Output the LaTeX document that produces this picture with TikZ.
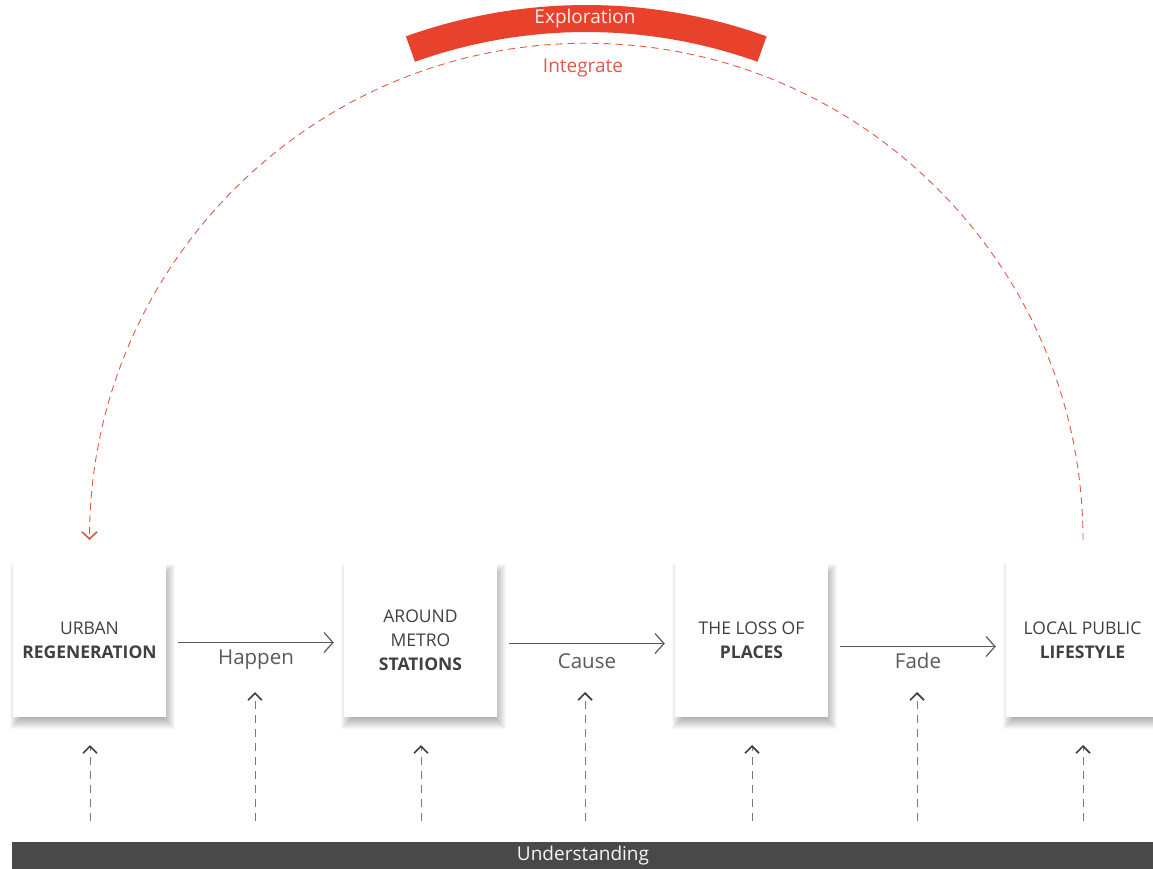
\documentclass[tikz,border=0pt]{standalone}
\usepackage{fontspec}
\setmainfont{Open Sans}
\usetikzlibrary{arrows.meta,calc,backgrounds}
\definecolor{ink}{HTML}{404040}
\definecolor{linegray}{HTML}{5A5A5A}
\definecolor{dashgray}{HTML}{7A7A7A}
\definecolor{bandred}{HTML}{E8412C}
\definecolor{arcred}{HTML}{DE5A48}
\definecolor{barcol}{HTML}{4A494A}
\tikzset{
  stagebox/.style={fill=white, minimum size=153pt, inner sep=0pt, align=center,
    font=\fontsize{17.5}{24}\selectfont, text=ink},
  flow/.style={draw=linegray, line width=0.9pt,
    -{Straight Barb[length=9pt, width=20pt, line width=1.2pt]}},
  flowlabel/.style={font=\fontsize{20.5}{22}\selectfont, text=linegray},
  lift/.style={draw=dashgray, line width=0.8pt, dash pattern=on 8pt off 6pt,
    -{Straight Barb[length=7pt, width=14pt, line width=1.7pt, color=ink]}},
  loop/.style={draw=arcred, line width=0.9pt, dash pattern=on 7pt off 5pt,
    -{Straight Barb[length=7pt, width=15pt, line width=1.7pt]}},
  softshade/.style={fill=black, opacity=0.028},
}
\begin{document}
\begin{tikzpicture}[x=1pt, y=-1pt]
  \clip (0,0) rectangle (1153,869);

  % the four stages
  \node[stagebox] (b1) at (89.5,640.5) {URBAN\\\textbf{REGENERATION}};
  \node[stagebox] (b2) at (420.5,640.5) {AROUND\\METRO\\\textbf{STATIONS}};
  \node[stagebox] (b3) at (751.5,640.5) {THE LOSS OF\\\textbf{PLACES}};
  \node[stagebox] (b4) at (1082.5,640.5) {LOCAL PUBLIC\\\textbf{LIFESTYLE}};

  % page ground and soft shadows under the stages
  \begin{pgfonlayer}{background}
    \fill[white] (0,0) rectangle (1153,869);
    \foreach \b in {b1,b2,b3,b4} {
      \foreach \s in {-6,...,6} {
        \fill[softshade] ([shift={(3pt-\s*1pt, -6pt-\s*1pt)}]\b.south west)
          rectangle ([shift={(3pt+\s*1pt, -6pt+\s*1pt)}]\b.north east);
      }
    }
  \end{pgfonlayer}

  % links between stages
  \draw[flow] ([xshift=12pt,yshift=-2pt]b1.east) -- node[flowlabel, below=4pt] {Happen} ([xshift=-10pt,yshift=-2pt]b2.west);
  \draw[flow] ([xshift=12pt,yshift=-3pt]b2.east) -- node[flowlabel, below=6.5pt] {Cause} ([xshift=-10pt,yshift=-3pt]b3.west);
  \draw[flow] ([xshift=12pt,yshift=-6pt]b3.east) -- node[flowlabel, below=2.5pt] {Fade} ([xshift=-10pt,yshift=-6pt]b4.west);

  % base bar
  \fill[barcol] (12,842) rectangle (1160,875);
  \node (und) at (583,856) {\fontsize{19}{20}\selectfont\color{white!92!gray}Understanding};

  % upward dashed links from the base
  \foreach \n/\x/\t in {1/90/745, 2/255/692, 3/421/745, 4/585/692, 5/752/745, 6/917/692, 7/1083/745} {
    \coordinate (s\n) at (\x,821);
    \coordinate (t\n) at (\x,\t);
    \draw[lift] (s\n) -- (t\n);
  }

  % exploration loop
  \coordinate (ctr) at (586.25,540);
  \coordinate (loopstart) at (1083,540);
  \draw[loop] (loopstart) arc[start angle=0, end angle=180, radius=496.75pt];

  % red band over the top of the loop
  \fill[bandred] (ctr) ++(70.3:535pt) arc[start angle=70.3, end angle=109.7, radius=535pt]
    -- ($(ctr)+(109.7:508pt)$) arc[start angle=109.7, end angle=70.3, radius=508pt] -- cycle;
  \node (explo) at (585,19) {\fontsize{19}{20}\selectfont\color{white!93!red}Exploration};
  \node (integ) at (583,68) {\fontsize{19}{20}\selectfont\color{arcred}Integrate};
\end{tikzpicture}
\end{document}
